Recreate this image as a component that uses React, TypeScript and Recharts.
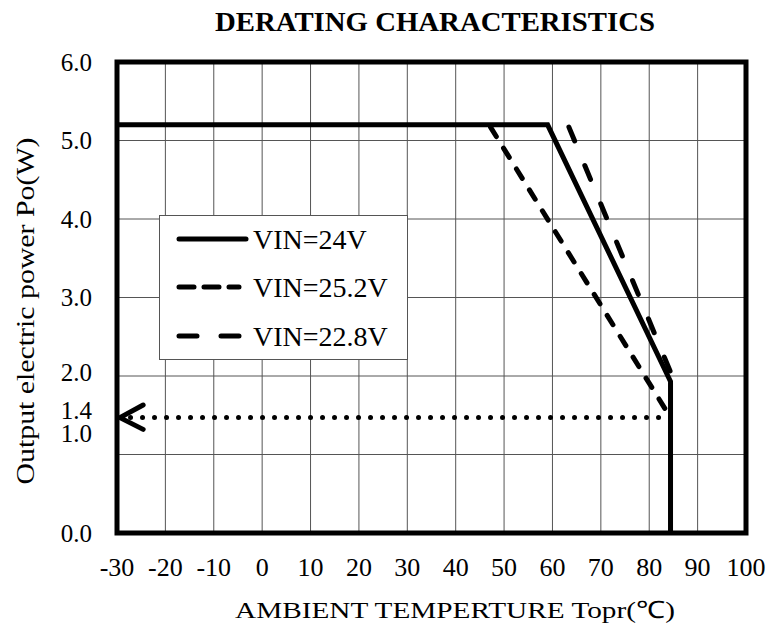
import { CartesianGrid, Legend, Line, LineChart, ReferenceArea, XAxis, YAxis } from "recharts";

const SERIF = '"Liberation Serif", "Times New Roman", serif';

// axis ticks and grid
const xTicks = [-30, -20, -10, 0, 10, 20, 30, 40, 50, 60, 70, 80, 90, 100];
const yTicks = [0, 1, 1.4, 2, 3, 4, 5, 6];
const gridX = [-20, -10, 0, 10, 20, 30, 40, 50, 60, 70, 80, 90];
const gridY = [1, 2, 3, 4, 5];

// derating curves (temperature C, power W)
const vin24 = [
  { t: -30, p: 5.2 },
  { t: 59, p: 5.2 },
  { t: 84.4, p: 1.93 },
  { t: 84.4, p: 0 },
];
const vin252 = [
  { t: 47.2, p: 5.17 },
  { t: 84.4, p: 1.47 },
];
const vin228 = [
  { t: 63.4, p: 5.17 },
  { t: 84.4, p: 2.05 },
];
// 1.4W marker at the left axis
const limit = [
  { t: 84.4, p: 1.47 },
  { t: -28, p: 1.47 },
];
const arrowHead = [
  { t: -24.6, p: 1.63 },
  { t: -29.4, p: 1.47 },
  { t: -24.6, p: 1.32 },
];

const legendOrder = ["VIN=24V", "VIN=25.2V", "VIN=22.8V"];

// nudge the crowded y labels like the original
const yLabelShift: Record<string, number> = { "1": -21, "1.4": -13, "2": -4 };
const legendDash: Record<string, string> = {
  "VIN=24V": "",
  "VIN=25.2V": "15 10",
  "VIN=22.8V": "18 24",
};

function XTick(props: any) {
  const { x, y, payload } = props;
  return (
    <text x={x} y={y + 43} textAnchor="middle" fontSize={26} fontFamily={SERIF} fill="#000">
      {payload.value}
    </text>
  );
}

function YTick(props: any) {
  const { x, y, payload } = props;
  const shift = yLabelShift[String(payload.value)] ?? 0;
  return (
    <text x={x - 25} y={y + shift + 8.5} textAnchor="end" fontSize={25} fontFamily={SERIF} fill="#000">
      {payload.value.toFixed(1)}
    </text>
  );
}

function renderLegend() {
  const rows = [24, 72, 121];
  return (
    <svg width={249} height={145} style={{ display: "block" }}>
      <rect x={0.5} y={0.5} width={248} height={144} fill="#fff" stroke="#555" />
      {legendOrder.map((name, i) => {
        const dash = legendDash[name];
        return (
          <g key={name}>
            <line
              x1={20}
              x2={dash ? 80 : 87}
              y1={rows[i]}
              y2={rows[i]}
              stroke="#000"
              strokeWidth={5}
              strokeLinecap="round"
              strokeDasharray={dash || undefined}
            />
            <text x={94} y={rows[i] + 9.5} fontSize={28} fontFamily={SERIF} fill="#000">
              {name}
            </text>
          </g>
        );
      })}
    </svg>
  );
}

export default function App() {
  return (
    <div style={{ position: "absolute", left: 0, top: 0, width: 768, height: 637, background: "#fff" }}>
      <LineChart width={768} height={637} margin={{ top: 62, right: 22, bottom: 0, left: 0 }}>
        <CartesianGrid stroke="#555" strokeWidth={1} horizontalValues={gridY} verticalValues={gridX} />
        <XAxis
          type="number"
          dataKey="t"
          domain={[-30, 100]}
          ticks={xTicks}
          interval={0}
          allowDataOverflow
          tickLine={false}
          axisLine={false}
          tickSize={0}
          tickMargin={0}
          height={104}
          tick={<XTick />}
        />
        <YAxis
          type="number"
          dataKey="p"
          domain={[0, 6]}
          ticks={yTicks}
          interval={0}
          allowDataOverflow
          tickLine={false}
          axisLine={false}
          tickSize={0}
          tickMargin={0}
          width={117}
          tick={<YTick />}
        />
        <ReferenceArea x1={-30} x2={100} y1={0} y2={6} fill="none" stroke="#000" strokeWidth={5} />
        <Line data={vin24} dataKey="p" name="VIN=24V" type="linear" stroke="#000" strokeWidth={5} dot={false} strokeLinejoin="miter" isAnimationActive={false} />
        <Line data={vin252} dataKey="p" name="VIN=25.2V" type="linear" stroke="#000" strokeWidth={5} strokeDasharray="11 13.6" strokeLinecap="round" dot={false} isAnimationActive={false} />
        <Line data={vin228} dataKey="p" name="VIN=22.8V" type="linear" stroke="#000" strokeWidth={5} strokeDasharray="15 26.5" strokeLinecap="round" dot={false} isAnimationActive={false} />
        <Line data={limit} dataKey="p" name="limit" legendType="none" type="linear" stroke="#000" strokeWidth={5} strokeDasharray="0 12" strokeLinecap="round" dot={false} isAnimationActive={false} />
        <Line data={arrowHead} dataKey="p" name="arrow" legendType="none" type="linear" stroke="#000" strokeWidth={5} strokeLinecap="round" strokeLinejoin="round" dot={false} isAnimationActive={false} />
        <Legend
          layout="horizontal"
          align="center"
          verticalAlign="middle"
          wrapperStyle={{ left: 159, top: 215, width: 249, height: 145 }}
          content={renderLegend}
        />
      </LineChart>
      <svg width={768} height={637} style={{ position: "absolute", left: 0, top: 0, pointerEvents: "none" }}>
        <text x={435} y={31} textAnchor="middle" fontSize={28} fontWeight="bold" fontFamily={SERIF} textLength={440} lengthAdjust="spacingAndGlyphs">
          DERATING CHARACTERISTICS
        </text>
        <text x={455} y={618} textAnchor="middle" fontSize={24} fontFamily={SERIF} textLength={440} lengthAdjust="spacingAndGlyphs">
          AMBIENT TEMPERTURE Topr(℃)
        </text>
        <text x={34} y={311} transform="rotate(-90, 34, 311)" textAnchor="middle" fontSize={25} fontFamily={SERIF} textLength={347} lengthAdjust="spacingAndGlyphs">
          Output electric power Po(W)
        </text>
      </svg>
    </div>
  );
}
